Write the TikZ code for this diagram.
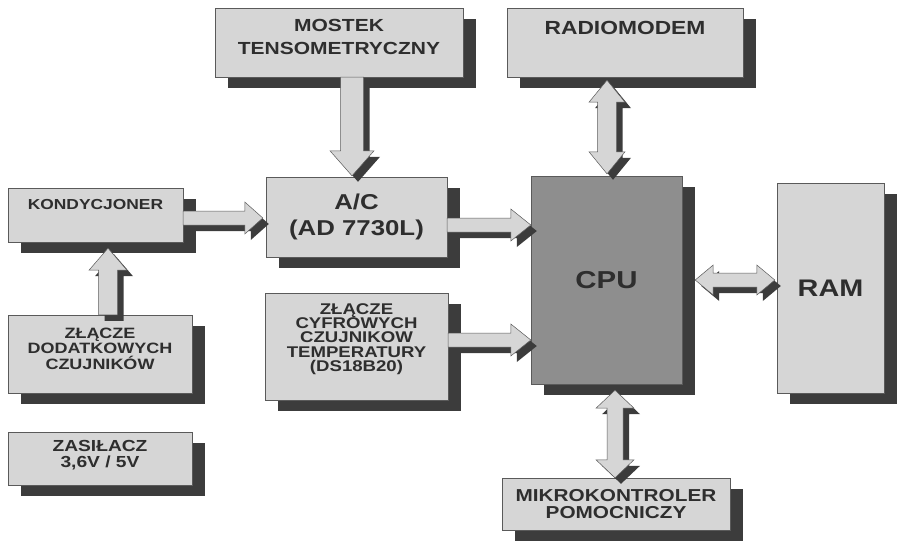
\documentclass[tikz,border=0pt]{standalone}
\usepackage{fontspec}
\setmainfont{Liberation Sans}[FakeStretch=1.2]
\usetikzlibrary{calc,shadows}

\definecolor{boxfill}{HTML}{D6D6D6}
\definecolor{cpufill}{HTML}{8E8E8E}
\definecolor{shade}{HTML}{3C3C3C}
\definecolor{edge}{HTML}{5A5A5A}
\definecolor{ink}{HTML}{2E2E2E}

\newcommand{\fs}[2]{\fontsize{#1}{#2}\selectfont\bfseries}

\tikzset{
  box/.style={draw=edge, fill=boxfill, text=ink, align=center, inner sep=0pt,
    drop shadow={shadow xshift=13pt, shadow yshift=-11pt, fill=shade, opacity=1}},
  arrshade/.style={fill=shade, draw=none, transform canvas={shift={(6pt,-6pt)}}},
  arrbody/.style={fill=boxfill, draw=edge, line width=0.5pt}
}

% block arrows: style, from, to, half shaft, half head, head length
\newcommand{\sarr}[6]{%
  \path ($(#3)!#6!(#2)$) coordinate (hb);
  \filldraw[#1] ($(#2)!#4!90:(#3)$) -- ($(hb)!#4!90:(#3)$) -- ($(hb)!#5!90:(#3)$) -- (#3)
    -- ($(hb)!#5!-90:(#3)$) -- ($(hb)!#4!-90:(#3)$) -- ($(#2)!#4!-90:(#3)$) -- cycle;}
\newcommand{\darr}[6]{%
  \path ($(#3)!#6!(#2)$) coordinate (hb) ($(#2)!#6!(#3)$) coordinate (ha);
  \filldraw[#1] (#2) -- ($(ha)!#5!90:(#3)$) -- ($(ha)!#4!90:(#3)$) -- ($(hb)!#4!90:(#3)$)
    -- ($(hb)!#5!90:(#3)$) -- (#3) -- ($(hb)!#5!-90:(#3)$) -- ($(hb)!#4!-90:(#3)$)
    -- ($(ha)!#4!-90:(#3)$) -- ($(ha)!#5!-90:(#3)$) -- cycle;}
\newcommand{\blkarrow}[5]{\sarr{arrshade}{#1}{#2}{#3}{#4}{#5}\sarr{arrbody}{#1}{#2}{#3}{#4}{#5}}
\newcommand{\dblarrow}[5]{\darr{arrshade}{#1}{#2}{#3}{#4}{#5}\darr{arrbody}{#1}{#2}{#3}{#4}{#5}}

\begin{document}
\begin{tikzpicture}[x=1pt, y=-1pt]
	\useasboundingbox (0,0) rectangle (901,544);
	\node[box, minimum width=248pt, minimum height=69pt, font=\fs{17.5}{23}, text depth=12pt] (mostek) at (339,42.5) {MOSTEK\\TENSOMETRYCZNY};
	\node[box, minimum width=236pt, minimum height=69pt, font=\fs{19}{20}, text depth=29pt] (radio) at (625,42.5) {RADIOMODEM};
	\node[box, minimum width=175pt, minimum height=54pt, font=\fs{14.5}{15}, text depth=22pt] (kond) at (95.5,215) {KONDYCJONER};
	\node[box, minimum width=181pt, minimum height=80pt, font=\fs{21.5}{26}] (ac) at (356.5,217) {A/C\\(AD 7730L)};
	\node[box, minimum width=183pt, minimum height=107pt, font=\fs{15.5}{14.3}, text depth=18pt] (cyfr) at (356.5,346.5) {ZŁĄCZE\\CYFROWYCH\\CZUJNIKOW\\TEMPERATURY\\(DS18B20)};
	\node[box, minimum width=184pt, minimum height=78pt, font=\fs{15}{15.5}, text depth=11pt] (dod) at (100,354) {ZŁĄCZE\\DODATKOWYCH\\CZUJNIKÓW};
	\node[box, minimum width=184pt, minimum height=53pt, font=\fs{16}{15.5}, text depth=9pt] (zas) at (100,458.5) {ZASIŁACZ\\3,6V / 5V};
	\node[box, fill=cpufill, minimum width=151pt, minimum height=208pt, font=\fs{24.5}{26}] (cpu) at (606.5,280) {CPU};
	\node[box, minimum width=107pt, minimum height=210pt, font=\fs{24}{26}] (ram) at (830.5,288) {RAM};
	\node[box, minimum width=228pt, minimum height=52pt, font=\fs{17.3}{17}] (mikro) at (616,504) {MIKROKONTROLER\\POMOCNICZY};
	\coordinate (a1t) at ($(ac.north)+(-4.5,-1)$); \coordinate (a1s) at (a1t |- mostek.south);
	\coordinate (a2s) at ($(kond.east)+(0,3)$); \coordinate (a2t) at ($(a2s -| ac.west)+(-3,0)$);
	\coordinate (a3s) at ($(dod.north)+(8,0)$); \coordinate (a3t) at ($(a3s |- kond.south)+(0,6)$);
	\coordinate (a4s) at ($(ac.east)+(0,8)$); \coordinate (a4t) at (a4s -| cpu.west);
	\coordinate (a5s) at ($(cyfr.east)+(0,-6.5)$); \coordinate (a5t) at (a5s -| cpu.west);
	\coordinate (a6t) at ($(cpu.north)+(0.5,-2)$); \coordinate (a6s) at ($(a6t |- radio.south)+(0,3)$);
	\coordinate (a7s) at ($(cpu.east)+(13,0)$); \coordinate (a7t) at ($(a7s -| ram.west)+(-2,0)$);
	\coordinate (a8s) at ($(cpu.south)+(8.5,6)$); \coordinate (a8t) at (a8s |- mikro.north);
	\blkarrow{a1s}{a1t}{11.5pt}{22pt}{25pt}
	\blkarrow{a2s}{a2t}{7pt}{16pt}{18pt}
	\blkarrow{a3s}{a3t}{9.5pt}{19pt}{22pt}
	\blkarrow{a4s}{a4t}{7pt}{16pt}{20pt}
	\blkarrow{a5s}{a5t}{7pt}{16pt}{20pt}
	\dblarrow{a6s}{a6t}{9.5pt}{18pt}{22pt}
	\dblarrow{a7s}{a7t}{7pt}{15pt}{18pt}
	\dblarrow{a8s}{a8t}{8pt}{19pt}{18pt}
\end{tikzpicture}
\end{document}
